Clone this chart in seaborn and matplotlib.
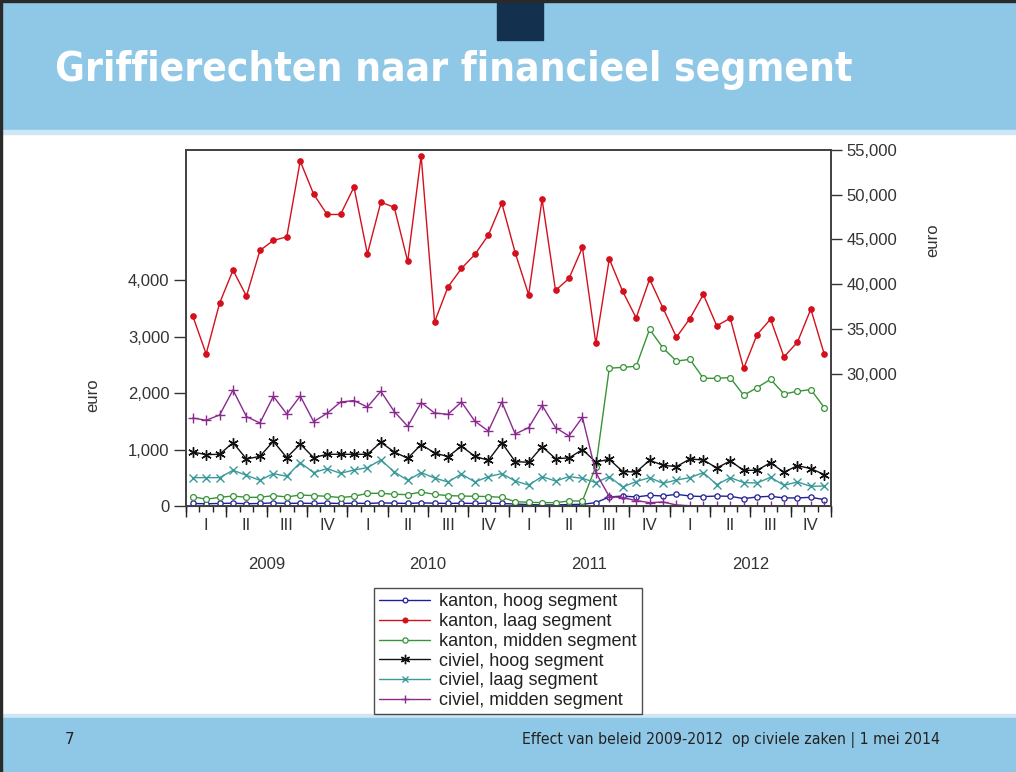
import matplotlib
matplotlib.use('Agg')
import matplotlib.pyplot as plt
import seaborn as sns
from matplotlib.patches import Rectangle
from matplotlib.ticker import FuncFormatter

# maanden jan 2009 .. dec 2012
months = list(range(48))
years = ['2009', '2010', '2011', '2012']
quarters = ['I', 'II', 'III', 'IV']

kanton_hoog = [45, 40, 45, 50, 40, 45, 55, 45, 50, 45, 50, 45,
               50, 45, 55, 50, 45, 55, 50, 45, 50, 45, 50, 45,
               35, 25, 20, 20, 25, 30, 60, 160, 177, 160, 190, 177,
               207, 177, 167, 177, 172, 131, 160, 172, 143, 143, 154, 113]
kanton_laag = [36450, 32190, 37870, 41560, 38650, 43760, 44880, 45290, 53760, 50060, 47790, 47790,
               50850, 43380, 49170, 48580, 42530, 54350, 35770, 39690, 41750, 43320, 45480, 49060,
               43500, 38800, 49500, 39290, 40630, 44100, 33360, 42820, 39180, 36220, 40550, 37310,
               34060, 36150, 38840, 35330, 36190, 30560, 34360, 36080, 31860, 33500, 37200, 32160]
kanton_midden = [167, 119, 154, 177, 154, 154, 184, 160, 195, 184, 172, 149,
                 172, 225, 225, 207, 202, 248, 207, 184, 177, 172, 167, 154,
                 78, 66, 60, 60, 89, 89, 700, 2442, 2459, 2477, 3133, 2801,
                 2570, 2600, 2264, 2264, 2277, 1963, 2099, 2246, 1986, 2034, 2064, 1745]
civiel_hoog = [957, 911, 917, 1124, 833, 881, 1147, 858, 1099, 858, 917, 917,
               917, 917, 1129, 957, 846, 1089, 940, 876, 1059, 881, 810, 1124,
               787, 775, 1053, 840, 851, 1000, 780, 828, 610, 603, 810, 722,
               699, 833, 816, 674, 798, 633, 633, 769, 597, 716, 663, 557]
civiel_laag = [503, 503, 503, 633, 544, 456, 574, 527, 769, 592, 663, 580,
               638, 681, 816, 603, 456, 592, 496, 426, 567, 426, 521, 574,
               443, 372, 521, 443, 521, 491, 415, 521, 337, 433, 503, 402,
               461, 503, 592, 379, 503, 415, 408, 509, 367, 426, 349, 355]
civiel_midden = [1560, 1520, 1614, 2057, 1585, 1472, 1945, 1631, 1950, 1496, 1644, 1844,
                 1869, 1755, 2034, 1674, 1413, 1833, 1649, 1626, 1844, 1502, 1330, 1844,
                 1277, 1390, 1785, 1390, 1241, 1573, 592, 167, 149, 96, 60, 71,
                 18, 5, 5, 5, 5, 5, 5, 5, 5, 5, 5, 5]

left_ticks = [0, 1000, 2000, 3000, 4000]
right_ticks = [30000, 35000, 40000, 45000, 50000, 55000]

sns.set_style('white')
plt.rcParams['font.family'] = ['Liberation Sans', 'DejaVu Sans']

W, H = 1016, 772
fig = plt.figure(figsize=(W / 100, H / 100), dpi=100)


def band(x0, y0, x1, y1, color):
    # rechthoek in pixels van de dia
    fig.patches.append(Rectangle((x0 / W, 1 - y1 / H), (x1 - x0) / W, (y1 - y0) / H,
                                 transform=fig.transFigure, color=color, zorder=0))


band(0, 0, W, 130, '#8fc8e6')
band(0, 130, W, 134, '#cfe7f4')
band(497, 0, 543, 40, '#13304e')
band(0, 714, W, 718, '#cfe7f4')
band(0, 718, W, H, '#8fc8e6')
band(0, 0, 2, H, '#2a2a2a')
band(0, 0, W, 2, '#2a2a2a')

fig.text(55 / W, 1 - 70 / H, 'Griffierechten naar financieel segment', color='white',
         fontsize=29.2, fontweight='bold', family='DejaVu Sans', fontstretch='condensed',
         va='center', ha='left')
fig.text(65 / W, 1 - 740 / H, '7', fontsize=11, family='DejaVu Sans', va='center', color='#222222')
fig.text(940 / W, 1 - 740 / H, 'Effect van beleid 2009-2012  op civiele zaken | 1 mei 2014',
         fontsize=11.3, family='DejaVu Sans', fontstretch='condensed', va='center', ha='right',
         color='#222222')

ax = fig.add_axes([186 / W, 1 - 506 / H, 645 / W, 356 / H])
ax2 = ax.twinx()

lw = 1.0
sns.lineplot(x=months, y=kanton_hoog, ax=ax, color='#1f1f99', lw=lw, marker='o', markersize=3.8,
             markerfacecolor='white', markeredgecolor='#1f1f99', markeredgewidth=0.9,
             label='kanton, hoog segment', legend=False)
sns.lineplot(x=months, y=kanton_midden, ax=ax, color='#379437', lw=lw, marker='o', markersize=4.2,
             markerfacecolor='white', markeredgecolor='#379437', markeredgewidth=0.9,
             label='kanton, midden segment', legend=False)
sns.lineplot(x=months, y=civiel_hoog, ax=ax, color='#111111', lw=lw, marker=(6, 2, 0), markersize=7.5,
             markeredgecolor='#111111', markeredgewidth=1.0,
             label='civiel, hoog segment', legend=False)
sns.lineplot(x=months, y=civiel_laag, ax=ax, color='#3a9a9a', lw=lw, marker='x', markersize=5.5,
             markeredgecolor='#3a9a9a', markeredgewidth=1.0,
             label='civiel, laag segment', legend=False)
sns.lineplot(x=months, y=civiel_midden, ax=ax, color='#8a2a8e', lw=lw, marker='+', markersize=7,
             markeredgecolor='#8a2a8e', markeredgewidth=1.0,
             label='civiel, midden segment', legend=False)
sns.lineplot(x=months, y=kanton_laag, ax=ax2, color='#d3101c', lw=lw, marker='o', markersize=4,
             markerfacecolor='#d3101c', markeredgecolor='#d3101c',
             label='kanton, laag segment', legend=False)

ax.set_xlim(-0.5, 47.5)
ax.set_ylim(0, 6312)
ax2.set_ylim(15180, 55000)

fmt = FuncFormatter(lambda v, p: '{:,.0f}'.format(v))
ax.set_yticks(left_ticks)
ax.yaxis.set_major_formatter(fmt)
ax2.set_yticks(right_ticks)
ax2.yaxis.set_major_formatter(fmt)

txt = '#333333'
ax.tick_params(axis='y', which='major', direction='out', length=9, width=1, pad=3,
               labelsize=12, colors='#333333', left=True)
ax2.tick_params(axis='y', which='major', direction='out', length=8, width=1, pad=3,
                labelsize=12, colors='#333333', right=True)
ax.set_ylabel('euro', fontsize=12, color=txt)
ax2.set_ylabel('euro', fontsize=12, color=txt)
ax.yaxis.set_label_coords(-0.133, 0.312)
ax2.yaxis.set_label_coords(1.146, 0.747)

# kwartalen en maanden op de x-as
ax.set_xticks([1 + 3 * q for q in range(16)])
ax.set_xticklabels(quarters * 4)
ax.set_xticks([m - 0.5 for m in range(49)], minor=True)
ax.tick_params(axis='x', which='major', length=0, pad=9, labelsize=12, colors=txt)
ax.tick_params(axis='x', which='minor', direction='out', length=4, width=1, color='#222222', bottom=True)

sec = ax.secondary_xaxis('bottom')
sec.set_xticks([q * 3 - 0.5 for q in range(17)])
sec.set_xticklabels([])
sec.tick_params(axis='x', direction='out', length=8, width=1, color='#222222')

sec2 = ax.secondary_xaxis('bottom')
sec2.set_xticks([5.5, 17.5, 29.5, 41.5])
sec2.set_xticklabels(years)
sec2.tick_params(axis='x', length=0, pad=37, labelsize=12, colors=txt)
sec2.spines['bottom'].set_visible(False)

for a in (ax, ax2):
    for s in a.spines.values():
        s.set_visible(True)
        s.set_color('#404040')
        s.set_linewidth(1.2)

h1, l1 = ax.get_legend_handles_labels()
h2, l2 = ax2.get_legend_handles_labels()
lookup = dict(zip(l1 + l2, h1 + h2))
order = ['kanton, hoog segment', 'kanton, laag segment', 'kanton, midden segment',
         'civiel, hoog segment', 'civiel, laag segment', 'civiel, midden segment']
leg = fig.legend([lookup[k] for k in order], order, loc='upper left',
                 bbox_to_anchor=(374 / W, 1 - 588 / H), bbox_transform=fig.transFigure,
                 frameon=True, fancybox=False, edgecolor='#222222', fontsize=13,
                 handlelength=2.8, handletextpad=0.5, labelspacing=0.15, borderpad=0.3,
                 borderaxespad=0, markerscale=0.9)
leg.get_frame().set_linewidth(1.0)
for t in leg.get_texts():
    t.set_color('#222222')

fig.savefig('out.png', dpi=100)
